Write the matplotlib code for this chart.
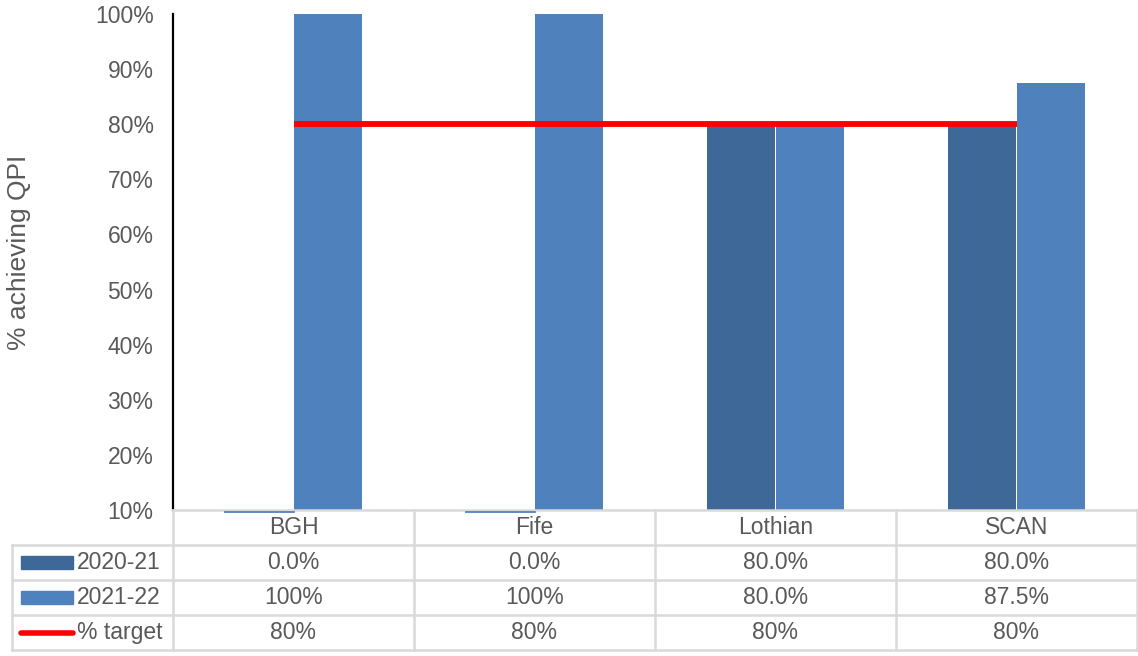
import numpy as np
import matplotlib.pyplot as plt

plt.rcParams['font.family'] = ['Liberation Sans', 'DejaVu Sans']

boards = ["BGH", "Fife", "Lothian", "SCAN"]
y2020 = [0.0, 0.0, 80.0, 80.0]
y2021 = [100.0, 100.0, 80.0, 87.5]
target = [80, 80, 80, 80]

c2020 = "#3E6898"
c2021 = "#4F81BD"
c_target = "#FF0000"
grey_txt = "#595959"
grid_c = "#D9D9D9"
fs = 16.5

W, H = 1138, 656
fig = plt.figure(figsize=(W / 100, H / 100), dpi=100)

# plot area in pixel terms
left, right, top, bottom = 173, 1137, 14, 510
ax = fig.add_axes([left / W, 1 - bottom / H, (right - left) / W, (bottom - top) / H])

x = np.arange(len(boards)) + 0.5
bw = 0.283
ymin = 10
ax.bar(x - bw / 2, y2020, bw, color=c2020, zorder=2)
ax.bar(x + bw / 2, y2021, bw, color=c2021, zorder=2)
# zero-valued bars sit below the axis floor; show them as a sliver
for xi, v in zip(x, y2020):
    if v <= ymin:
        ax.plot([xi - bw, xi], [ymin - 0.35, ymin - 0.35], color=c2021, lw=1.3,
                clip_on=False, zorder=3)
ax.plot(x, target, color=c_target, lw=4.2, solid_capstyle="butt", zorder=4)

ax.set_xlim(0, len(boards))
ax.set_ylim(ymin, 100)
ax.set_yticks(np.arange(10, 101, 10))
ax.set_yticklabels([f"{t}%" for t in range(10, 101, 10)])
ax.set_xticks([])
ax.tick_params(axis="y", length=0, pad=14, labelsize=fs, labelcolor=grey_txt)
for s in ["top", "right"]:
    ax.spines[s].set_visible(False)
ax.spines["left"].set_color("black")
ax.spines["left"].set_linewidth(1.6)
ax.spines["bottom"].set_color(grid_c)
ax.spines["bottom"].set_linewidth(1.8)
ax.set_ylabel("% achieving QPI", fontsize=19, color=grey_txt)
ax.yaxis.set_label_coords(-0.147, 0.52)

# data table underneath
tleft, tbottom = 12, 650
cat_w = (right - left) / len(boards)
tax = fig.add_axes([tleft / W, 1 - tbottom / H, (right - tleft) / W, (tbottom - bottom) / H])
tax.set_xlim(-(left - tleft) / cat_w, len(boards))
tax.set_ylim(0, 4)
tax.axis("off")
x0 = -(left - tleft) / cat_w
lk = dict(color=grid_c, lw=1.8, clip_on=False)
for yy in [0, 1, 2, 3]:
    tax.plot([x0, len(boards)], [yy, yy], **lk)
tax.plot([x0, x0], [0, 3], **lk)
for xx in range(len(boards) + 1):
    tax.plot([xx, xx], [0, 4], **lk)

rows = [
    ("2020-21", [f"{v:.1f}%" for v in y2020], c2020, "bar"),
    ("2021-22", [f"{v:.0f}%" if v == 100 else f"{v:.1f}%" for v in y2021], c2021, "bar"),
    ("% target", [f"{v}%" for v in target], c_target, "line"),
]
for i, b in enumerate(boards):
    tax.text(i + 0.5, 3.5, b, ha="center", va="center", fontsize=fs, color=grey_txt)
key_l = x0 + 9 / cat_w
key_r = x0 + 61 / cat_w
for r, (name, vals, col, kind) in enumerate(rows):
    yc = 2.5 - r
    if kind == "bar":
        tax.add_patch(plt.Rectangle((key_l, yc - 0.19), key_r - key_l, 0.38, color=col))
    else:
        tax.plot([key_l, key_r], [yc, yc], color=col, lw=4, solid_capstyle="round")
    tax.text(key_r + 4 / cat_w, yc, name, ha="left", va="center", fontsize=fs, color=grey_txt)
    for i, v in enumerate(vals):
        tax.text(i + 0.5, yc, v, ha="center", va="center", fontsize=fs, color=grey_txt)

fig.savefig("out.png", dpi=100)
